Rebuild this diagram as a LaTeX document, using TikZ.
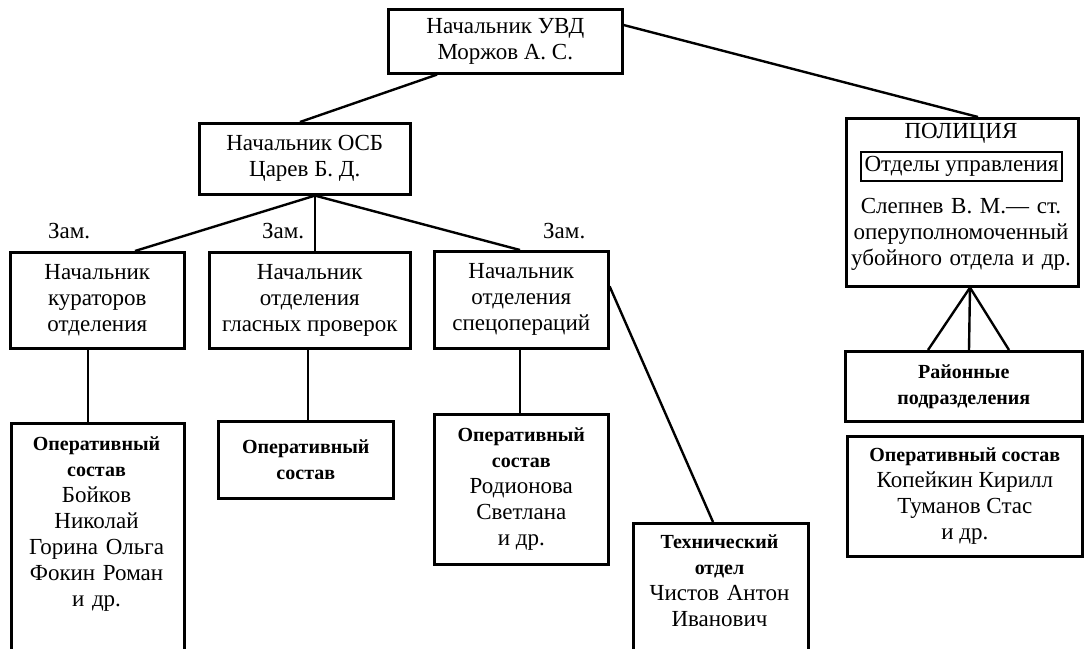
\documentclass[tikz,border=0pt]{standalone}
\usepackage{fontspec}
\setmainfont{Liberation Serif}
\newcommand\fsz{\fontsize{23}{26}\selectfont}
\newcommand\bsz[1]{{\fontsize{20}{26}\selectfont\bfseries #1}}
\begin{document}
\begin{tikzpicture}[x=1pt,y=-1pt,
  box/.style={draw, line width=2.6pt, align=center, inner sep=0pt, font=\fsz, anchor=north west},
  txt/.style={align=center, inner sep=0pt, font=\fsz, text width=#1, anchor=base},
  txt/.default=230pt,
  link/.style={line width=2.4pt},
  zam/.style={inner sep=0pt, font=\fsz, anchor=base west}]
\useasboundingbox (0,0) rectangle (1084,648);
\begin{scope}
\clip (0,0) rectangle (1084,648);
\node[box, minimum width=234pt, minimum height=64pt] (uvd) at (387,8) {Начальник УВД\\Моржов А. С.};
\node[box, minimum width=211pt, minimum height=71pt] (osb) at (198,122) {Начальник ОСБ\\Царев Б. Д.};
\node[box, minimum width=174pt, minimum height=96pt] (n1) at (9,251) {Начальник\\кураторов\\отделения};
\node[box, minimum width=201pt, minimum height=96pt] (n2) at (208,251) {Начальник\\отделения\\гласных проверок};
\node[box, minimum width=174pt, minimum height=97pt] (n3) at (433,250) {Начальник\\отделения\\спецопераций};
\node[box, minimum width=173pt, minimum height=260pt] (op1) at (10,422) {};
\node[txt=173pt] (op1t) at (96.5,450) {\bsz{Оперативный}\\\bsz{состав}\\Бойков\\Николай\\Горина Ольга\\Фокин Роман\\и др.};
\node[box, minimum width=175pt, minimum height=77pt] (op2) at (217,420) {\bsz{Оперативный}\\\bsz{состав}};
\node[box, minimum width=174pt, minimum height=150pt] (op3) at (433,413) {\bsz{Оперативный}\\\bsz{состав}\\Родионова\\Светлана\\и др.};
\node[box, minimum width=175pt, minimum height=160pt] (tech) at (632,522) {};
\node[txt=175pt] (techt) at (719.5,548) {\bsz{Технический}\\\bsz{отдел}\\Чистов Антон\\Иванович};
\node[box, minimum width=232pt, minimum height=168pt] (pol) at (845,117) {};
\node[txt=232pt] (polt) at (961,138) {ПОЛИЦИЯ};
\node[draw, line width=1.3pt, minimum width=201pt, minimum height=29pt, inner sep=0pt, font=\fsz] (otd) at (961.5,166.5) {Отделы управления};
\node[txt=232pt] (slep) at (961,213) {Слепнев В. М.— ст.\\оперуполномоченный\\убойного отдела и др.};
\node[box, minimum width=237pt, minimum height=70pt] (rn) at (844,350) {\bsz{Районные}\\\bsz{подразделения}};
\node[box, minimum width=235pt, minimum height=120pt] (op4) at (846,435) {\bsz{Оперативный состав}\\Копейкин Кирилл\\Туманов Стас\\и др.};
\node[zam] (z1) at (48,238) {Зам.};
\node[zam] (z2) at (262,238) {Зам.};
\node[zam] (z3) at (543,238) {Зам.};
\draw[link] ([xshift=50pt]uvd.south west) -- ([xshift=102pt]osb.north west);
\draw[link] ([yshift=-17pt]uvd.north east) -- ([xshift=133pt]pol.north west);
\coordinate (osbb) at ([xshift=117pt]osb.south west);
\draw[link] (osbb) -- ([xshift=126pt]n1.north west);
\draw[link] (osbb) -- ([xshift=107pt]n2.north west);
\draw[link] (osbb) -- ([xshift=87pt]n3.north west);
\draw[link] ([xshift=79pt]n1.south west) -- ([xshift=78pt]op1.north west);
\draw[link] ([xshift=100pt]n2.south west) -- ([xshift=91pt]op2.north west);
\draw[link] ([xshift=87pt]n3.south west) -- ([xshift=87pt]op3.north west);
\draw[link] ([yshift=13.5pt]n3.east) -- ([xshift=81pt]tech.north west);
\coordinate (polb) at ([xshift=125pt]pol.south west);
\draw[link] (polb) -- ([xshift=84pt]rn.north west);
\draw[link] (polb) -- ([xshift=125pt]rn.north west);
\draw[link] (polb) -- ([xshift=165pt]rn.north west);
\end{scope}
\end{tikzpicture}
\end{document}
